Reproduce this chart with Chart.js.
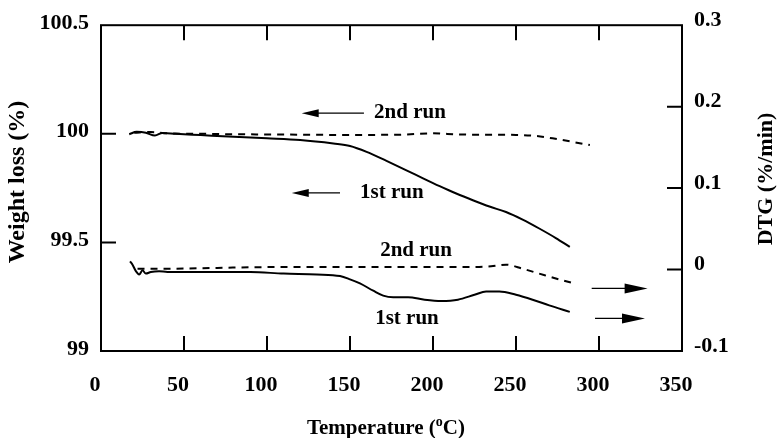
<!DOCTYPE html>
<html><head><meta charset="utf-8">
<script src="https://cdn.jsdelivr.net/npm/chart.js@4.4.0/dist/chart.umd.min.js"></script>
<style>html,body{margin:0;padding:0;background:#fff;} #wrap{width:778px;height:438px;position:relative;}</style>
</head><body><div id="wrap"><canvas id="c"></canvas></div>
<script>
// ---- data ----
const tg1Temp = [17,21.5,27,32.5,37,45,60,80,100,120,140,150,160,172,184,194,204,214,224,234,244,254,264,274,282.4];
const tg1Val  = [99.998,100.009,100.005,99.992,100.004,100.0,99.994,99.986,99.979,99.971,99.955,99.944,99.917,99.875,99.832,99.795,99.759,99.725,99.694,99.665,99.640,99.605,99.564,99.520,99.479];

const tg2Temp = [20,30,40,60,80,100,120,140,160,180,200,215,230,250,262,272,284,294.5];
const tg2Val  = [100.005,100.008,100.002,100.0,99.998,99.997,99.996,99.995,99.995,99.996,100.002,99.997,99.996,99.995,99.99,99.979,99.963,99.948];

const dtg1Temp = [17.5,19,21,23,25,27,30,35,40,60,90,110,130,144,150,156,164,170,176,185,195,205,215,225,232,240,250,260,270,282.4];
const dtg1Val  = [0.010,0.006,-0.002,-0.006,-0.001,-0.005,-0.003,-0.002,-0.003,-0.003,-0.003,-0.005,-0.006,-0.008,-0.012,-0.017,-0.026,-0.032,-0.034,-0.034,-0.037,-0.0385,-0.037,-0.031,-0.027,-0.027,-0.031,-0.037,-0.044,-0.052];

const dtg2Temp = [22,40,70,100,130,160,190,220,235,244,254,264,274,284];
const dtg2Val  = [0.001,0.001,0.002,0.003,0.003,0.003,0.003,0.003,0.004,0.006,0.001,-0.005,-0.011,-0.0165];

const xTickValues = [0,50,100,150,200,250,300,350];
const xTickLabels = ['0','50','100','150','200','250','300','350'];
const yLeftTickValues = [99,99.5,100,100.5];
const yLeftTickLabels = ['99','99.5','100','100.5'];
const yRightTickValues = [-0.1,0,0.1,0.2,0.3];
const yRightTickLabels = ['-0.1','0','0.1','0.2','0.3'];

const xTitle = ['Temperature (', 'o', 'C)'];
const yLeftTitle = 'Weight loss (%)';
const yRightTitle = 'DTG (%/min)';

// annotation texts & arrows (data units)
const notes = [
  {text:'2nd run', x:164.5, y:100.10, align:'left'},
  {text:'1st run', x:156,   y:99.728, align:'left'},
  {text:'2nd run', x:189.8, y:99.464, align:'center'},
  {text:'1st run', x:184.3, y:99.151, align:'center'}
];
const arrows = [
  {from:158.4, to:120.9, y:100.095, head:17, half:4},
  {from:144,   to:114.9, y:99.728,  head:17, half:4},
  {from:295.6, to:329.3, y:99.288,  head:23, half:5},
  {from:297.6, to:327.7, y:99.150,  head:23, half:5}
];

const FONT = "'Liberation Serif', 'Times New Roman', serif";
const pts = (xs, ys) => xs.map((x,i)=>({x:x, y:ys[i]}));

const decor = {
  id:'decor',
  afterDatasetsDraw(chart){
    const {ctx, chartArea:a, scales} = chart;
    ctx.save();
    ctx.strokeStyle='#000'; ctx.fillStyle='#000';
    ctx.lineWidth=2;
    ctx.strokeRect(a.left, a.top, a.right-a.left, a.bottom-a.top);
    const TL=15;
    ctx.beginPath();
    xTickValues.slice(1,-1).forEach(v=>{
      const px=scales.x.getPixelForValue(v);
      ctx.moveTo(px,a.top); ctx.lineTo(px,a.top+TL);
      ctx.moveTo(px,a.bottom); ctx.lineTo(px,a.bottom-TL);
    });
    yLeftTickValues.slice(1,-1).forEach(v=>{
      const py=scales.y.getPixelForValue(v);
      ctx.moveTo(a.left,py); ctx.lineTo(a.left+TL,py);
    });
    yRightTickValues.slice(1,-1).forEach(v=>{
      const py=scales.y2.getPixelForValue(v);
      ctx.moveTo(a.right,py); ctx.lineTo(a.right-TL,py);
    });
    ctx.stroke();

    // arrows
    ctx.lineWidth=1.3;
    arrows.forEach(ar=>{
      const x1=scales.x.getPixelForValue(ar.from), x2=scales.x.getPixelForValue(ar.to);
      const py=scales.y.getPixelForValue(ar.y);
      const dir=Math.sign(x2-x1);
      ctx.beginPath(); ctx.moveTo(x1,py); ctx.lineTo(x2-dir*ar.head*0.5,py); ctx.stroke();
      ctx.beginPath(); ctx.moveTo(x2,py); ctx.lineTo(x2-dir*ar.head,py-ar.half); ctx.lineTo(x2-dir*ar.head,py+ar.half); ctx.closePath(); ctx.fill();
    });

    // notes
    ctx.font='bold 21px '+FONT;
    ctx.textBaseline='middle';
    notes.forEach(n=>{
      ctx.textAlign=n.align;
      ctx.fillText(n.text, scales.x.getPixelForValue(n.x), scales.y.getPixelForValue(n.y));
    });

    // x title with superscript o
    ctx.textAlign='left'; ctx.textBaseline='alphabetic';
    const f1='bold 21px '+FONT, f2='bold 14px '+FONT;
    ctx.font=f1; const w1=ctx.measureText(xTitle[0]).width, w3=ctx.measureText(xTitle[2]).width;
    ctx.font=f2; const w2=ctx.measureText(xTitle[1]).width;
    const tw=w1+w2+w3, cx=386, by=434;
    let x0=cx-tw/2;
    ctx.font=f1; ctx.fillText(xTitle[0],x0,by);
    ctx.font=f2; ctx.fillText(xTitle[1],x0+w1,by-8);
    ctx.font=f1; ctx.fillText(xTitle[2],x0+w1+w2,by);

    // y titles (both read bottom-to-top)
    ctx.textAlign='center'; ctx.textBaseline='middle';
    ctx.font='bold 24px '+FONT;
    ctx.save(); ctx.translate(18,182); ctx.rotate(-Math.PI/2); ctx.fillText(yLeftTitle,0,0); ctx.restore();
    ctx.font='bold 22px '+FONT;
    ctx.save(); ctx.translate(766,179); ctx.rotate(-Math.PI/2); ctx.fillText(yRightTitle,0,0); ctx.restore();
    ctx.restore();
  }
};

const lineDs = (label, data, axis, dashed) => ({
  label, data, yAxisID: axis, borderColor:'#000', borderWidth:2, pointRadius:0,
  tension:0.35, cubicInterpolationMode:'monotone', fill:false,
  borderDash: dashed ? [7,6] : [], clip:false
});

const tickFont = {family:FONT, size:22, weight:'bold'};

new Chart(document.getElementById('c'), {
  type:'line',
  data:{ datasets:[
    lineDs('TG 1st run', pts(tg1Temp,tg1Val), 'y', false),
    lineDs('TG 2nd run', pts(tg2Temp,tg2Val), 'y', true),
    lineDs('DTG 1st run', pts(dtg1Temp,dtg1Val), 'y2', false),
    lineDs('DTG 2nd run', pts(dtg2Temp,dtg2Val), 'y2', true)
  ]},
  options:{
    responsive:true, maintainAspectRatio:false, animation:false,
    layout:{padding:{top:25,left:0,right:0,bottom:0}},
    plugins:{legend:{display:false}, tooltip:{enabled:false}},
    scales:{
      x:{ type:'linear', min:0, max:350,
        afterBuildTicks: s=>{ s.ticks = xTickValues.map(v=>({value:v})); },
        afterFit: s=>{ s.height=87; },
        grid:{display:false, drawTicks:false}, border:{display:false},
        ticks:{ color:'#000', font:tickFont, padding:21, labelOffset:-6, maxRotation:0, autoSkip:false,
          callback:(v)=>xTickLabels[xTickValues.indexOf(v)] }
      },
      y:{ type:'linear', position:'left', min:99, max:100.5,
        afterBuildTicks: s=>{ s.ticks = yLeftTickValues.map(v=>({value:v})); },
        afterFit: s=>{ s.width=101; },
        grid:{display:false, drawTicks:false}, border:{display:false},
        ticks:{ color:'#000', font:tickFont, padding:12, labelOffset:-2, autoSkip:false,
          callback:(v)=>yLeftTickLabels[yLeftTickValues.indexOf(v)] }
      },
      y2:{ type:'linear', position:'right', min:-0.1, max:0.3,
        afterBuildTicks: s=>{ s.ticks = yRightTickValues.map(v=>({value:v})); },
        afterFit: s=>{ s.width=96; },
        grid:{display:false, drawTicks:false}, border:{display:false},
        ticks:{ color:'#000', font:tickFont, padding:12, labelOffset:-5, autoSkip:false,
          callback:(v)=>{ const i=yRightTickValues.findIndex(t=>Math.abs(t-v)<1e-9); return yRightTickLabels[i]; } }
      }
    }
  },
  plugins:[decor]
});
</script></body></html>
